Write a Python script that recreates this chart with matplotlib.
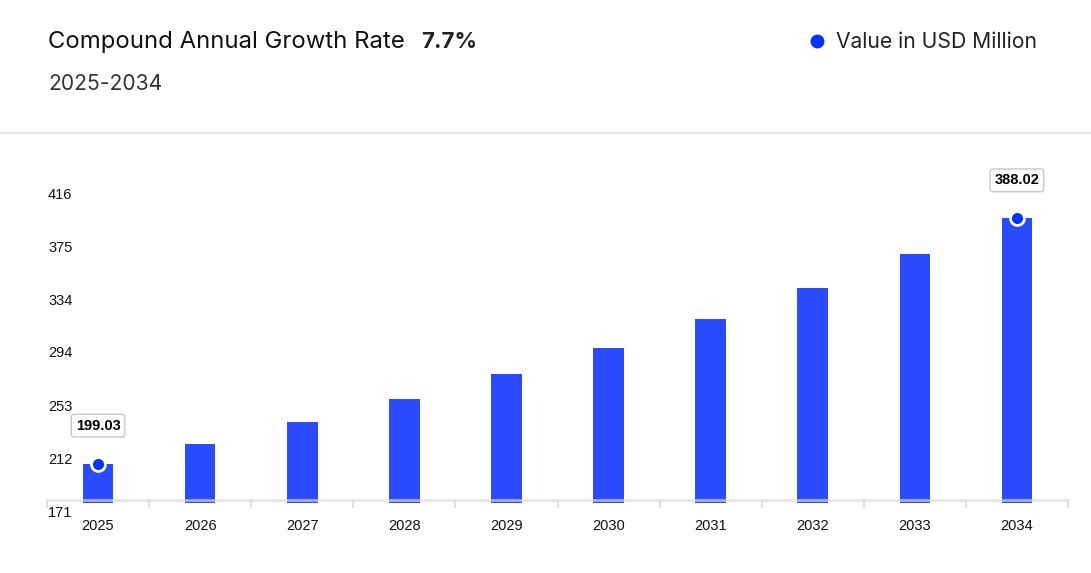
import numpy as np
import matplotlib.pyplot as plt
from matplotlib.transforms import blended_transform_factory, ScaledTranslation

# values
years = ["2025", "2026", "2027", "2028", "2029", "2030", "2031", "2032", "2033", "2034"]
values = [199.03, 214.4, 230.9, 248.6, 267.8, 288.4, 310.6, 334.5, 360.3, 388.02]
ytick_vals = [171, 212, 253, 294, 334, 375, 416]
cagr = "7.7%"
period = "2025-2034"
legend_label = "Value in USD Million"

W, H = 1091, 573
fig = plt.figure(figsize=(W / 100, H / 100), dpi=100)
fig.patch.set_facecolor("white")

ax = fig.add_axes([47 / W, (H - 500) / H, (1068 - 47) / W, (500 - 182) / H])
ax.set_facecolor("white")

x = np.arange(len(years))
bottom = 169
ax.bar(x, np.array(values) - bottom, bottom=bottom, width=0.30, color="#2a4bff",
       zorder=2, clip_on=False)
ax.set_xlim(-0.5, len(years) - 0.5)
ax.set_ylim(171, 416)

# axis line on top of the bars
ax.axhline(171, color="#dcdcdc", lw=2, alpha=0.7, zorder=3, clip_on=False)
for s in ax.spines.values():
    s.set_visible(False)

ax.set_yticks([])
ax.set_xticks(x)
ax.set_xticklabels(years, fontsize=10.5, family="Liberation Sans", color="#111111")
ax.tick_params(axis="x", length=0, pad=14)
ax.set_xticks(np.arange(-0.5, len(years)), minor=True)
ax.tick_params(axis="x", which="minor", length=6, width=1.2, color="#dcdcdc")

# y labels sit a bit below their values, left aligned
trans = blended_transform_factory(fig.transFigure, ax.transData) + \
    ScaledTranslation(0, -13 / 100, fig.dpi_scale_trans)
for v in ytick_vals:
    fig.text(48 / W, v, str(v), transform=trans, ha="left", va="center",
             fontsize=10.5, family="Liberation Sans", color="#111111")

# markers and labels for first and last values
for i in [0, len(values) - 1]:
    ax.plot(x[i], values[i], "o", ms=10, color="#0033ff", mec="white", mew=2,
            zorder=4, clip_on=False)
    ax.annotate(f"{values[i]:.2f}", (x[i], values[i]), xytext=(0, 38),
                textcoords="offset pixels", ha="center", va="center",
                fontsize=10.5, fontweight="bold", family="Liberation Sans",
                color="#000000", annotation_clip=False,
                bbox=dict(boxstyle="round,pad=0.3,rounding_size=0.2",
                          fc="white", ec="#c8c8c8", lw=1))

# header
fig.text(48 / W, 1 - 42 / H, "Compound Annual Growth Rate", fontsize=17.2,
         family="Inter", color="#111111", va="center", ha="left")
fig.text(421 / W, 1 - 42 / H, cagr, fontsize=16, family="Inter",
         fontweight="bold", color="#222222", va="center", ha="left")
fig.text(48 / W, 1 - 84 / H, period, fontsize=15.2, family="Inter",
         color="#333333", va="center", ha="left")

fig.lines.append(plt.Line2D([817 / W], [1 - 41 / H], marker="o", ms=9,
                            color="#0033ff", transform=fig.transFigure))
fig.text(836 / W, 1 - 42 / H, legend_label, fontsize=15.2, family="Inter",
         color="#222222", va="center", ha="left")

fig.lines.append(plt.Line2D([0, 1], [1 - 133 / H, 1 - 133 / H], color="#e6e6e6",
                            lw=1.5, transform=fig.transFigure))

fig.savefig("out.png", dpi=100, facecolor="white")
